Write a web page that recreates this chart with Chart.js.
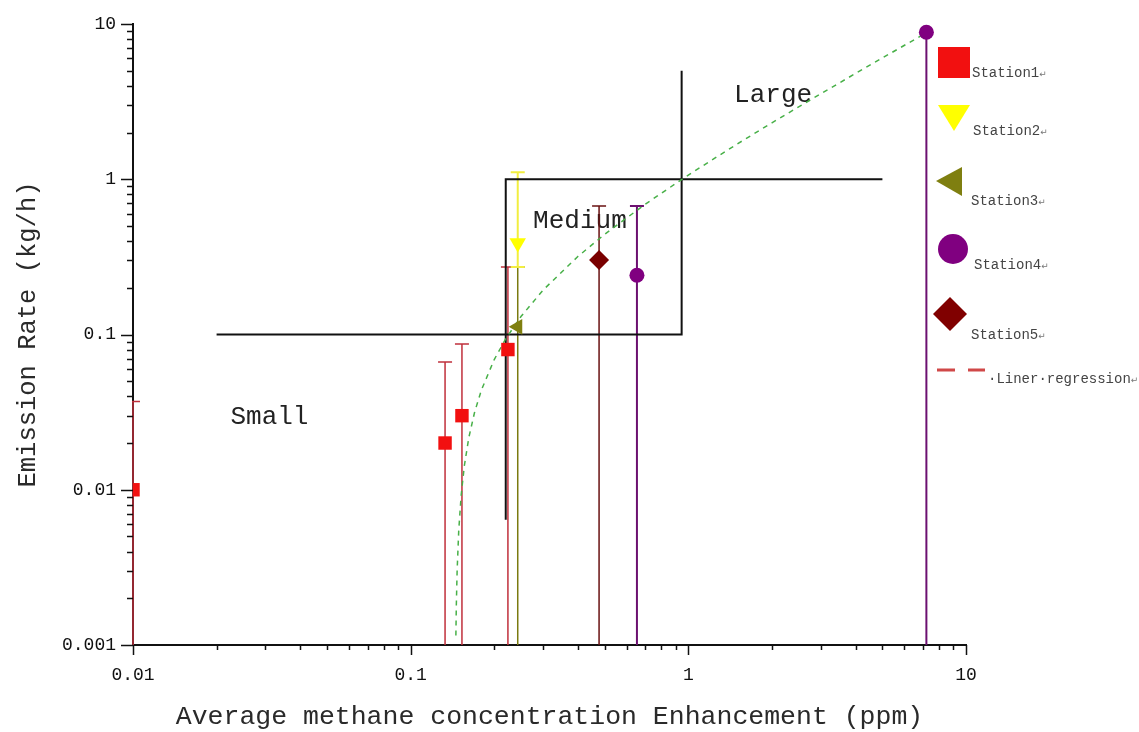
<!DOCTYPE html>
<html>
<head>
<meta charset="utf-8">
<script src="https://cdn.jsdelivr.net/npm/chart.js@4/dist/chart.umd.min.js"></script>
<style>
  html, body { margin: 0; padding: 0; background: #fff; }
  #wrap { width: 1139px; height: 732px; }
</style>
</head>
<body>
<div id="wrap"><canvas id="c" width="1139" height="732"></canvas></div>
<script>
// Axis tick labels (decades only)
const xTickLabels = ['0.01', '0.1', '1', '10'];
const yTickLabels = ['0.001', '0.01', '0.1', '1', '10'];

// Station 1 (concentration ppm, emission kg/h, error range)
const station1X = [0.01, 0.133, 0.153, 0.224];
const station1Y = [0.01, 0.02, 0.03, 0.08];
const station1Low = [0.001, 0.001, 0.001, 0.001];
const station1High = [0.037, 0.0665, 0.087, 0.272];

// Station 2
const station2X = [0.243];
const station2Y = [0.388];
const station2Low = [0.272];
const station2High = [1.11];

// Station 3
const station3X = [0.243];
const station3Y = [0.112];
const station3Low = [0.001];
const station3High = [0.272];

// Station 4
const station4X = [0.653, 7.2];
const station4Y = [0.241, 8.85];
const station4Low = [0.001, 0.001];
const station4High = [0.673, null];

// Station 5
const station5X = [0.477];
const station5Y = [0.302];
const station5Low = [0.001];
const station5High = [0.673];

// Fitted regression line, sampled points
const regressionX = [0.1455, 0.146, 0.147, 0.149, 0.152, 0.156, 0.162, 0.17, 0.18, 0.2, 0.22, 0.25, 0.3, 0.4, 0.5, 0.7, 1, 1.5, 2, 3, 4, 5, 7.2];
const regressionY = [0.00115, 0.00177, 0.003, 0.0055, 0.0092, 0.0142, 0.0217, 0.0317, 0.0441, 0.069, 0.0939, 0.131, 0.1935, 0.318, 0.4425, 0.6915, 1.065, 1.6875, 2.31, 3.555, 4.8, 6.045, 8.784];

// Size-class boundaries
const boundaryAX = [0.02, 0.946, 0.946];
const boundaryAY = [0.1, 0.1, 5];
const boundaryBX = [0.22, 0.22, 5];
const boundaryBY = [0.0064, 1, 1];

// Size-class labels
const classNames = ['Small', 'Medium', 'Large'];
const classX = [0.031, 0.407, 2.02];
const classY = [0.0294, 0.538, 3.49];

const pts = (xs, ys) => xs.map((x, i) => ({ x: x, y: ys[i] }));

const errorSets = [
  { x: station1X, y: station1Y, lo: station1Low, hi: station1High, color: '#c0303c', width: 1.5 },
  { x: station5X, y: station5Y, lo: station5Low, hi: station5High, color: '#6a1212', width: 1.5 },
  { x: station4X, y: station4Y, lo: station4Low, hi: station4High, color: '#6c1070', width: 2 },
  { x: station3X, y: station3Y, lo: station3Low, hi: station3High, color: '#7a7a10', width: 1.5 },
  { x: station2X, y: station2Y, lo: station2Low, hi: station2High, color: '#f2ee40', width: 2 }
];

function logTicks(min, max) {
  const out = [];
  const e0 = Math.round(Math.log10(min));
  const e1 = Math.round(Math.log10(max));
  for (let e = e0; e <= e1; e++) {
    for (let m = 1; m <= 9; m++) {
      const v = +(m * Math.pow(10, e)).toPrecision(4);
      if (v >= min * 0.999999 && v <= max * 1.000001) out.push({ value: v, major: m === 1 });
    }
  }
  return out;
}

function labelFor(list, value) {
  const s = list.find(t => Math.abs(Number(t) - value) <= value * 1e-6);
  return s === undefined ? '' : s;
}

const errorBars = {
  id: 'errorBars',
  beforeDatasetsDraw(chart) {
    const { ctx, chartArea, scales } = chart;
    const xs = scales.x, ys = scales.y;
    // class labels
    ctx.save();
    ctx.font = '26px "Liberation Mono"';
    ctx.fillStyle = '#222';
    ctx.textAlign = 'center';
    ctx.textBaseline = 'middle';
    classNames.forEach((n, i) => {
      ctx.fillText(n, xs.getPixelForValue(classX[i]), ys.getPixelForValue(classY[i]));
    });
    ctx.restore();

    ctx.save();
    ctx.beginPath();
    ctx.rect(chartArea.left - 1, chartArea.top - 2, chartArea.right - chartArea.left + 1, chartArea.bottom - chartArea.top + 2);
    ctx.clip();
    const cap = 7;
    errorSets.forEach(s => {
      ctx.strokeStyle = s.color;
      ctx.lineWidth = s.width;
      s.x.forEach((xv, i) => {
        const px = xs.getPixelForValue(xv);
        const top = s.hi[i] === null ? ys.getPixelForValue(s.y[i]) : ys.getPixelForValue(s.hi[i]);
        const bot = ys.getPixelForValue(s.lo[i]);
        ctx.beginPath();
        ctx.moveTo(px, bot);
        ctx.lineTo(px, top);
        if (s.hi[i] !== null) {
          ctx.moveTo(px - cap, top);
          ctx.lineTo(px + cap, top);
        }
        if (s.lo[i] > ys.min * 1.0001) {
          ctx.moveTo(px - cap, bot);
          ctx.lineTo(px + cap, bot);
        }
        ctx.stroke();
      });
    });
    ctx.restore();
  }
};

const axisTicks = {
  id: 'axisTicks',
  afterDraw(chart) {
    const { ctx } = chart;
    const xs = chart.scales.x, ys = chart.scales.y;
    ctx.save();
    ctx.strokeStyle = '#111';
    ctx.lineWidth = 1.5;
    ctx.beginPath();
    xs.ticks.forEach(t => {
      const px = Math.round(xs.getPixelForValue(t.value)) + 0.5;
      const len = t.major ? 10 : 5;
      ctx.moveTo(px, xs.top);
      ctx.lineTo(px, xs.top + len);
    });
    ys.ticks.forEach(t => {
      const py = Math.round(ys.getPixelForValue(t.value)) + 0.5;
      const len = t.major ? 12 : 6;
      ctx.moveTo(ys.right, py);
      ctx.lineTo(ys.right - len, py);
    });
    ctx.stroke();
    ctx.restore();
  }
};

const sideLegend = {
  id: 'sideLegend',
  afterDraw(chart) {
    const { ctx } = chart;
    ctx.save();
    // Station1: red square
    ctx.fillStyle = '#f21010';
    ctx.fillRect(938, 47, 32, 31);
    // Station2: inverted yellow triangle
    ctx.fillStyle = '#ffff00';
    ctx.beginPath();
    ctx.moveTo(938, 105); ctx.lineTo(970, 105); ctx.lineTo(954, 131); ctx.closePath(); ctx.fill();
    // Station3: left-pointing olive triangle
    ctx.fillStyle = '#7f7f10';
    ctx.beginPath();
    ctx.moveTo(936, 181); ctx.lineTo(962, 167); ctx.lineTo(962, 196); ctx.closePath(); ctx.fill();
    // Station4: purple circle
    ctx.fillStyle = '#800080';
    ctx.beginPath();
    ctx.arc(953, 249, 15, 0, Math.PI * 2); ctx.fill();
    // Station5: dark red diamond
    ctx.fillStyle = '#800000';
    ctx.beginPath();
    ctx.moveTo(950, 297); ctx.lineTo(967, 314); ctx.lineTo(950, 331); ctx.lineTo(933, 314); ctx.closePath(); ctx.fill();
    // Regression: red dashes
    ctx.strokeStyle = '#d04848';
    ctx.lineWidth = 3;
    ctx.beginPath();
    ctx.moveTo(937, 370); ctx.lineTo(955, 370);
    ctx.moveTo(968, 370); ctx.lineTo(985, 370);
    ctx.stroke();

    const items = [
      ['Station1', 972, 73],
      ['Station2', 973, 131],
      ['Station3', 971, 201],
      ['Station4', 974, 265],
      ['Station5', 971, 335],
      ['\u00b7Liner\u00b7regression', 988, 379]
    ];
    ctx.textBaseline = 'middle';
    ctx.textAlign = 'left';
    items.forEach(([t, x, y]) => {
      ctx.font = '14px "Liberation Mono"';
      ctx.fillStyle = '#444';
      ctx.fillText(t, x, y);
      const w = ctx.measureText(t).width;
      ctx.font = '9px "DejaVu Sans"';
      ctx.fillStyle = '#777';
      ctx.fillText('\u21b5', x + w, y + 2);
    });
    ctx.restore();
  }
};

Chart.defaults.font.family = '"Liberation Mono", monospace';
Chart.defaults.color = '#111';

new Chart(document.getElementById('c'), {
  type: 'scatter',
  data: {
    datasets: [
      { label: 'Station1', data: pts(station1X, station1Y), pointStyle: 'rect', pointRadius: 9.5,
        backgroundColor: '#f21010', borderColor: '#f21010', borderWidth: 0, clip: 0 },
      { label: 'Station2', data: pts(station2X, station2Y), pointStyle: 'triangle', rotation: 180, pointRadius: 9.5,
        backgroundColor: '#ffff00', borderColor: '#ffff00', borderWidth: 0 },
      { label: 'Station3', data: pts(station3X, station3Y), pointStyle: 'triangle', rotation: -90, pointRadius: 9,
        backgroundColor: '#7f7f10', borderColor: '#7f7f10', borderWidth: 0 },
      { label: 'Station4', data: pts(station4X, station4Y), pointStyle: 'circle', pointRadius: 7.5,
        backgroundColor: '#800080', borderColor: '#800080', borderWidth: 0 },
      { label: 'Station5', data: pts(station5X, station5Y), pointStyle: 'rectRot', pointRadius: 10,
        backgroundColor: '#7a0000', borderColor: '#7a0000', borderWidth: 0 },
      { label: 'Liner regression', data: pts(regressionX, regressionY), showLine: true, pointRadius: 0,
        borderColor: '#48b048', borderWidth: 1.5, borderDash: [5, 5], tension: 0 },
      { label: 'boundaryA', data: pts(boundaryAX, boundaryAY), showLine: true, pointRadius: 0,
        borderColor: '#111', borderWidth: 2, tension: 0 },
      { label: 'boundaryB', data: pts(boundaryBX, boundaryBY), showLine: true, pointRadius: 0,
        borderColor: '#111', borderWidth: 2, tension: 0 }
    ]
  },
  options: {
    responsive: false,
    animation: false,
    devicePixelRatio: 1,
    layout: { padding: { top: 24, right: 173, left: 0, bottom: 0 } },
    plugins: { legend: { display: false }, tooltip: { enabled: false } },
    scales: {
      x: {
        type: 'logarithmic',
        position: 'bottom',
        min: 0.01,
        max: 10,
        afterBuildTicks: s => { s.ticks = logTicks(0.01, 10); },
        afterFit: s => { s.height = 87; },
        grid: { drawOnChartArea: false, drawTicks: true, tickLength: 10, tickColor: 'rgba(0,0,0,0)' },
        border: { display: true, color: '#111', width: 2 },
        ticks: {
          autoSkip: false, maxRotation: 0, minRotation: 0, padding: 9,
          font: { size: 18, family: '"Liberation Mono"' }, color: '#111',
          callback: v => labelFor(xTickLabels, v)
        },
        title: {
          display: true,
          text: 'Average methane concentration Enhancement (ppm)',
          font: { size: 26.5, family: '"Liberation Mono"' },
          color: '#2a2a2a',
          padding: { top: 0, bottom: -1 }
        }
      },
      y: {
        type: 'logarithmic',
        position: 'left',
        min: 0.001,
        max: 10,
        afterBuildTicks: s => { s.ticks = logTicks(0.001, 10); },
        afterFit: s => { s.width = 133; },
        grid: { drawOnChartArea: false, drawTicks: true, tickLength: 12, tickColor: 'rgba(0,0,0,0)' },
        border: { display: true, color: '#111', width: 2 },
        ticks: {
          autoSkip: false, padding: 5,
          font: { size: 18, family: '"Liberation Mono"' }, color: '#111',
          callback: v => labelFor(yTickLabels, v)
        },
        title: {
          display: true,
          text: 'Emission Rate (kg/h)',
          font: { size: 25.5, family: '"Liberation Mono"' },
          color: '#2a2a2a',
          padding: { top: 13, bottom: 0 }
        }
      }
    }
  },
  plugins: [errorBars, axisTicks, sideLegend]
});
</script>
</body>
</html>
